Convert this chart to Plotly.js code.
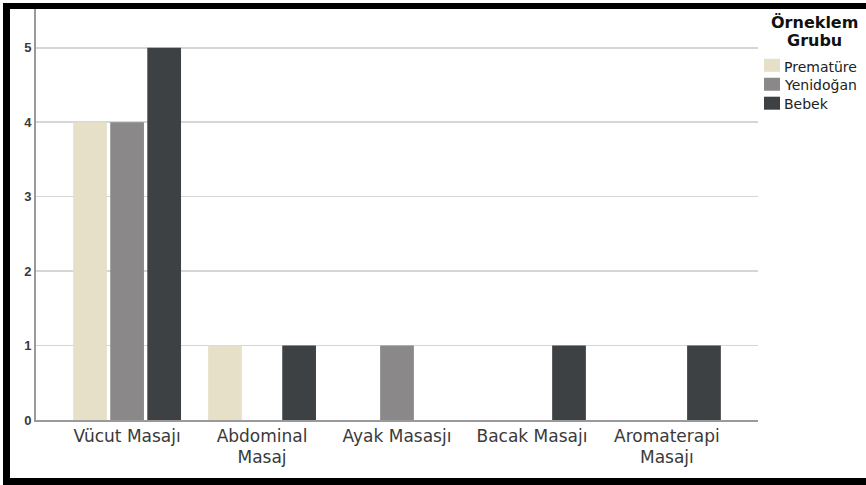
<!DOCTYPE html>
<html>
<head>
<meta charset="utf-8">
<script src="https://cdn.plot.ly/plotly-3.0.1.min.js"></script>
<style>
  html, body { margin: 0; padding: 0; background: #fff; }
  #wrap { position: relative; width: 866px; height: 485px; overflow: hidden; }
  #chart { position: absolute; left: 0; top: 0; width: 866px; height: 485px; }
  #frame { position: absolute; left: 3px; top: 3px; width: 880px; height: 469px;
           border-left: 7px solid #000; border-top: 6px solid #000; border-bottom: 7px solid #000;
           pointer-events: none; }
</style>
</head>
<body>
<div id="wrap">
  <div id="chart"></div>
  <div id="frame"></div>
</div>
<script>
const categories = ["Vücut Masajı", "Abdominal<br>Masaj", "Ayak Masasjı", "Bacak Masajı", "Aromaterapi<br>Masajı"];
const seriesNames = ["Prematüre", "Yenidoğan", "Bebek"];
const prematureValues = [4, 1, 0, 0, 0];
const yenidoganValues = [4, 0, 1, 0, 0];
const bebekValues = [5, 1, 0, 1, 1];
const yTickValues = [0, 1, 2, 3, 4, 5];
const legendTitleLines = ["Örneklem", "Grubu"];

const colors = ["#E6E0C8", "#8A8888", "#3D4143"];
const allValues = [prematureValues, yenidoganValues, bebekValues];

const W = 866, H = 485;
const M = { l: 36, r: 108, t: 9, b: 65 };
const pw = W - M.l - M.r, ph = H - M.t - M.b;
const px2x = px => (px - M.l) / pw;
const py2y = py => (H - M.b - py) / ph;

const traces = allValues.map((vals, i) => ({
  type: "bar",
  name: seriesNames[i],
  x: categories,
  y: vals,
  marker: { color: colors[i], line: { width: 0 } },
  hoverinfo: "x+y+name"
}));

// Legend drawn with layout shapes + annotations
const shapes = [];
const annotations = [];
const titleMids = [23, 40];
legendTitleLines.forEach((t, i) => {
  annotations.push({
    xref: "paper", yref: "paper", x: px2x(814), y: py2y(titleMids[i]),
    xanchor: "center", yanchor: "middle", showarrow: false, borderpad: 0,
    text: "<b>" + t + "</b>",
    font: { family: "DejaVu Sans, sans-serif", size: 16, color: "#111" }
  });
});
seriesNames.forEach((name, i) => {
  const c = 65.3 + 18.95 * i;
  shapes.push({
    type: "rect", xref: "paper", yref: "paper",
    x0: px2x(764), x1: px2x(780), y0: py2y(c - 6.5), y1: py2y(c + 6.5),
    fillcolor: colors[i], line: { width: 0 }
  });
  annotations.push({
    xref: "paper", yref: "paper", x: px2x(783), y: py2y(c + 1.2),
    xanchor: "left", yanchor: "middle", showarrow: false, borderpad: 0, text: name,
    font: { family: "DejaVu Sans, sans-serif", size: 14, color: "#222" }
  });
});

const layout = {
  width: W,
  height: H,
  margin: { l: M.l, r: M.r, t: M.t, b: M.b, pad: 0, autoexpand: false },
  paper_bgcolor: "#ffffff",
  plot_bgcolor: "#ffffff",
  barmode: "group",
  bargap: 0.176,
  bargroupgap: 0.09,
  showlegend: false,
  xaxis: {
    type: "category",
    range: [-0.675, 4.675],
    showgrid: false,
    showline: true,
    linecolor: "#9a9a9a",
    linewidth: 2,
    ticks: "",
    tickfont: { family: "DejaVu Sans, sans-serif", size: 17, color: "#3a3a3a" },
    fixedrange: true
  },
  yaxis: {
    range: [0, 5.52],
    tickvals: yTickValues,
    ticktext: yTickValues.map(String),
    showgrid: true,
    gridcolor: "#d6d6d6",
    gridwidth: 1.6,
    showline: true,
    linecolor: "#9a9a9a",
    linewidth: 2,
    zeroline: false,
    ticks: "",
    tickfont: { family: "Liberation Sans, Arial, sans-serif", size: 13, color: "#3a3a3a", weight: "bold" },
    fixedrange: true
  },
  shapes: shapes,
  annotations: annotations
};

Plotly.newPlot("chart", traces, layout, { displayModeBar: false, staticPlot: true }).then(() => {
  // tighten line spacing of two-line category labels
  document.querySelectorAll(".xtick text tspan.line").forEach(t => {
    const dy = t.getAttribute("dy");
    if (dy && parseFloat(dy) > 0) t.setAttribute("dy", "1.2em");
  });
});
</script>
</body>
</html>
